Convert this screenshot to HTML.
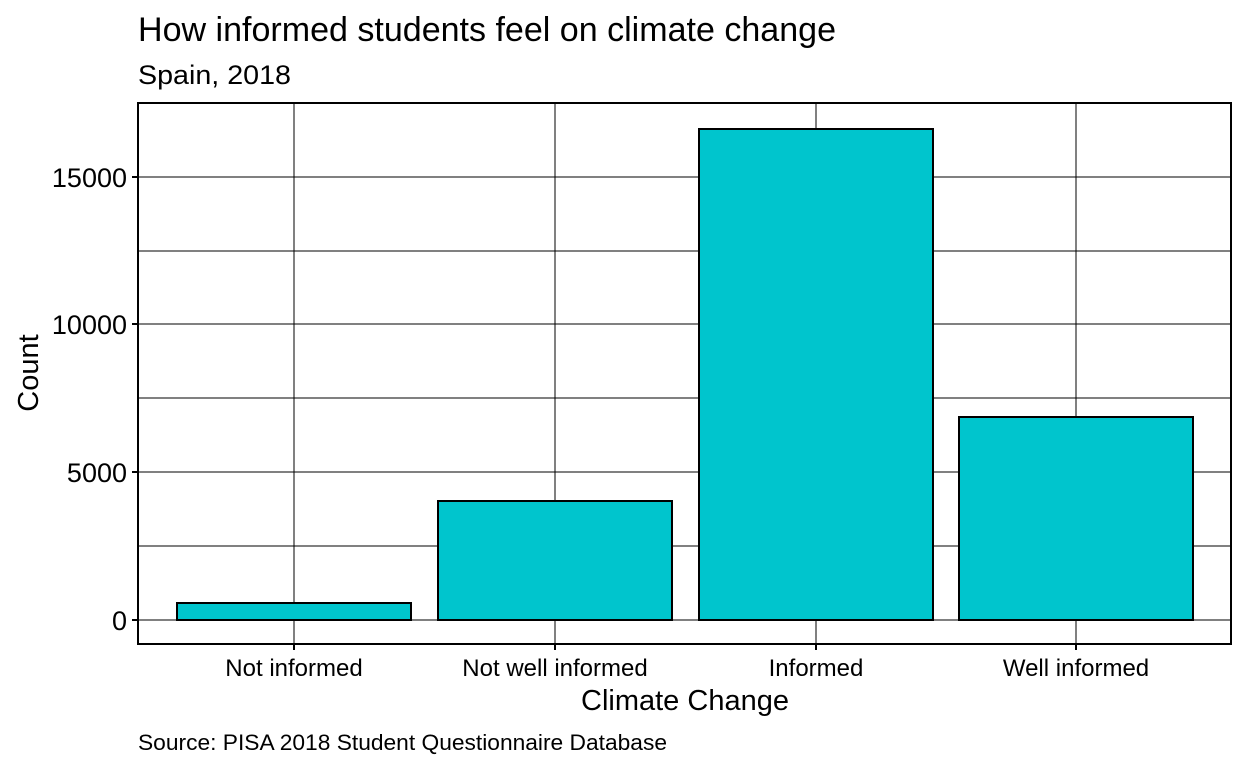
<!DOCTYPE html>
<html><head><meta charset="utf-8"><style>
body{margin:0;background:#fff}
svg text{font-family:"Liberation Sans",Arial,sans-serif;fill:#000}
</style></head><body>
<svg width="1248" height="768" viewBox="0 0 1248 768" xmlns="http://www.w3.org/2000/svg">
<rect width="1248" height="768" fill="#fff"/>
<text x="138" y="41" font-size="34" textLength="698" lengthAdjust="spacingAndGlyphs">How informed students feel on climate change</text>
<text x="138" y="84" font-size="27" textLength="153" lengthAdjust="spacingAndGlyphs">Spain, 2018</text>
<g stroke="#000" stroke-width="1">
<line x1="138" y1="546" x2="1231" y2="546"/>
<line x1="138" y1="398" x2="1231" y2="398"/>
<line x1="138" y1="251" x2="1231" y2="251"/>
<line x1="138" y1="620" x2="1231" y2="620"/>
<line x1="138" y1="472" x2="1231" y2="472"/>
<line x1="138" y1="324" x2="1231" y2="324"/>
<line x1="138" y1="177" x2="1231" y2="177"/>
<line x1="294" y1="103" x2="294" y2="644"/>
<line x1="555" y1="103" x2="555" y2="644"/>
<line x1="816" y1="103" x2="816" y2="644"/>
<line x1="1076" y1="103" x2="1076" y2="644"/>
</g>
<g fill="#00C5CD" stroke="#000" stroke-width="2">
<rect x="177" y="603" width="234" height="17"/>
<rect x="438" y="501" width="234" height="119"/>
<rect x="699" y="129" width="234" height="491"/>
<rect x="959" y="417" width="234" height="203"/>
</g>
<rect x="138" y="103" width="1093" height="541" fill="none" stroke="#000" stroke-width="2"/>
<g stroke="#000" stroke-width="2">
<line x1="132" y1="620" x2="138" y2="620"/><line x1="132" y1="472" x2="138" y2="472"/>
<line x1="132" y1="324" x2="138" y2="324"/><line x1="132" y1="177" x2="138" y2="177"/>
<line x1="294" y1="644" x2="294" y2="650"/><line x1="555" y1="644" x2="555" y2="650"/>
<line x1="816" y1="644" x2="816" y2="650"/><line x1="1076" y1="644" x2="1076" y2="650"/>
</g>
<g font-size="27" text-anchor="end">
<text x="127" y="630">0</text><text x="127" y="482">5000</text>
<text x="127" y="334">10000</text><text x="127" y="187">15000</text>
</g>
<g font-size="24" text-anchor="middle">
<text x="294" y="676">Not informed</text><text x="555" y="676">Not well informed</text>
<text x="816" y="676">Informed</text><text x="1076" y="676">Well informed</text>
</g>
<text x="685" y="710" font-size="29" text-anchor="middle">Climate Change</text>
<text transform="translate(38,373) rotate(-90)" font-size="29" text-anchor="middle">Count</text>
<text x="138" y="750" font-size="22" textLength="529" lengthAdjust="spacingAndGlyphs">Source: PISA 2018 Student Questionnaire Database</text>
</svg>
</body></html>
